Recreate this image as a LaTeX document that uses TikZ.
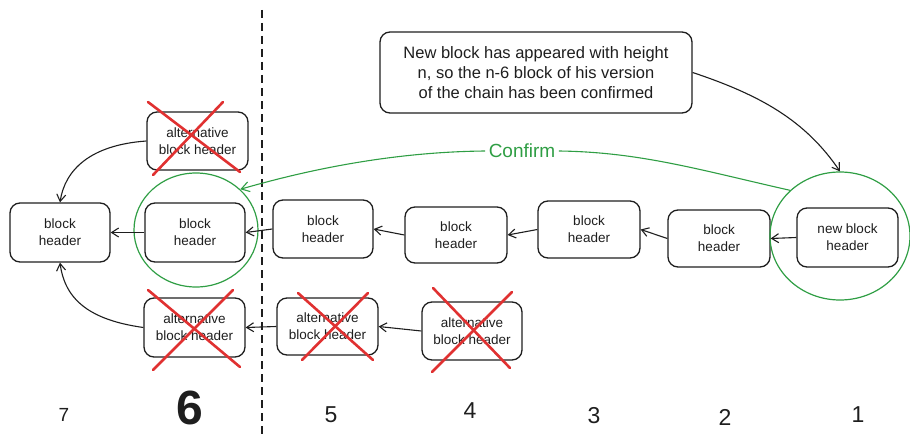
\documentclass[tikz,border=0pt]{standalone}
\usepackage{fontspec}
\setmainfont{Liberation Sans}
\usetikzlibrary{arrows.meta,shapes.geometric}
\definecolor{exgreen}{HTML}{2F9E44}
\definecolor{exred}{HTML}{E03131}
\definecolor{ink}{HTML}{1E1E1E}
\tikzset{
  blk/.style={draw=ink, line width=1.3pt, rounded corners=10pt, align=center, font=\fontsize{13.5}{17}\selectfont, inner sep=0pt, text=ink},
  lnk/.style={draw=ink, line width=1.1pt, -{Straight Barb[length=7pt,width=9pt]}},
  cross/.style={draw=exred, line width=2.6pt, line cap=round},
  ring/.style={draw=exgreen, line width=1.2pt, ellipse, inner sep=0pt},
  num/.style={text=ink, font=\fontsize{23}{25}\selectfont, anchor=base, inner sep=0pt},
}
\begin{document}
\begin{tikzpicture}[x=1pt,y=-1pt]
\useasboundingbox (0,0) rectangle (910,436);
% boxes
\node[blk, minimum width=100pt, minimum height=59pt] (b7) at (60,232.5) {block\\header};
\node[blk, minimum width=100pt, minimum height=59pt] (b6) at (195,232.5) {block\\header};
\node[blk, minimum width=101pt, minimum height=58pt] (a6t) at (197.5,141) {alternative\\block header};
\node[blk, minimum width=101pt, minimum height=59pt] (a6b) at (194.5,327.5) {alternative\\block header};
\node[blk, minimum width=100pt, minimum height=58pt] (b5) at (323,229) {block\\header};
\node[blk, minimum width=102pt, minimum height=56pt] (b4) at (456,235) {block\\header};
\node[blk, minimum width=102pt, minimum height=57pt] (b3) at (589,229.5) {block\\header};
\node[blk, minimum width=102pt, minimum height=57pt] (b2) at (719,238.5) {block\\header};
\node[blk, minimum width=101pt, minimum height=59pt] (b1) at (847.5,237.5) {new block\\header};
\node[blk, minimum width=101pt, minimum height=57pt] (a5) at (327.5,326.5) {alternative\\block header};
\node[blk, minimum width=100pt, minimum height=58pt] (a4) at (472,331) {alternative\\block header};
\node[blk, minimum width=312pt, minimum height=81pt, font=\fontsize{16.5}{20}\selectfont] (note) at (536,72.5) {New block has appeared with height\\n, so the n-6 block of his version\\of the chain has been confirmed};
% rings
\node[ring, minimum width=124pt, minimum height=114pt] (c6) at (196,230) {};
\node[ring, minimum width=140pt, minimum height=128pt] (c1) at (840,236) {};
% dashed divider
\coordinate (dtop) at (262,10);
\coordinate (dbot) at (262,436);
\draw[ink, line width=2pt, dash pattern=on 8pt off 5pt] (dtop) -- (dbot);
% chain links
\draw[lnk] (b6.west) -- (b7.east);
\draw[lnk] (b5.west) -- (b6.east);
\draw[lnk] (b4.west) -- (b5.east);
\draw[lnk] (b3.west) -- (b4.east);
\draw[lnk] (b2.west) -- (b3.east);
\draw[lnk] (b1.west) -- (b2.east);
\draw[lnk] (a5.west) -- (a6b.east);
\draw[lnk] (a4.west) -- (a5.east);
\draw[lnk] (a6t.west) .. controls (90,145) and (65,170) .. (b7.north);
\draw[lnk] (a6b.west) .. controls (90,320) and (65,300) .. (b7.south);
\draw[lnk] (note.east) .. controls (760,95) and (805,120) .. (c1.north);
% confirm
\node[text=exgreen, font=\fontsize{19}{22}\selectfont] (conf) at (522,151) {Confirm};
\draw[exgreen, line width=1.1pt] (c1.north west) .. controls (700,170) and (640,152) .. (conf.east);
\draw[exgreen, line width=1.1pt, -{Straight Barb[length=8pt,width=10pt]}] (conf.west) .. controls (380,152) and (290,175) .. (c6.north east);
% crosses
\coordinate (x1a) at (148,102); \coordinate (x1b) at (240,172);
\coordinate (x1c) at (223,102); \coordinate (x1d) at (153,175);
\draw[cross] (x1a) -- (x1b); \draw[cross] (x1c) -- (x1d);
\coordinate (x2a) at (148,290); \coordinate (x2b) at (240,367);
\coordinate (x2c) at (233,290); \coordinate (x2d) at (153,370);
\draw[cross] (x2a) -- (x2b); \draw[cross] (x2c) -- (x2d);
\coordinate (x3a) at (298,293); \coordinate (x3b) at (373,360);
\coordinate (x3c) at (368,293); \coordinate (x3d) at (302,360);
\draw[cross] (x3a) -- (x3b); \draw[cross] (x3c) -- (x3d);
\coordinate (x4a) at (433,288); \coordinate (x4b) at (510,368);
\coordinate (x4c) at (512,292); \coordinate (x4d) at (432,372);
\draw[cross] (x4a) -- (x4b); \draw[cross] (x4c) -- (x4d);
% numbers
\node[num, font=\fontsize{19}{21}\selectfont] (n7) at (64,421) {7};
\node[num, font=\fontsize{48}{50}\selectfont\bfseries] (n6) at (190,424) {6};
\node[num] (n5) at (331,422) {5};
\node[num] (n4) at (470,418) {4};
\node[num] (n3) at (594,423) {3};
\node[num] (n2) at (725,425) {2};
\node[num] (n1) at (858,422) {1};
\end{tikzpicture}
\end{document}
